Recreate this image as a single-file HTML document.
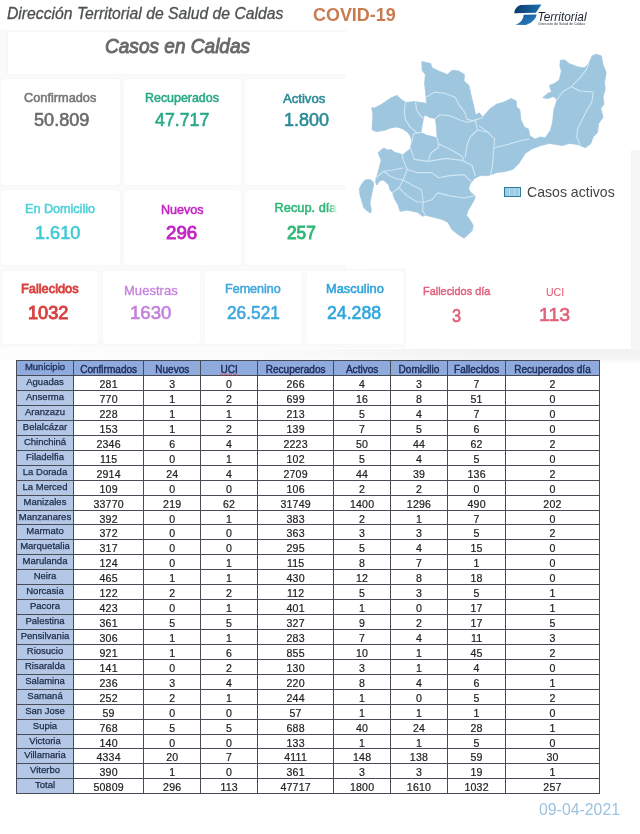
<!DOCTYPE html>
<html lang="es">
<head>
<meta charset="utf-8">
<title>COVID-19 Casos en Caldas</title>
<style>
html,body{margin:0;padding:0}
body{width:640px;height:834px;position:relative;overflow:hidden;background:#fff;font-family:"Liberation Sans",sans-serif}
.abs,.tbl div,.tbl i{position:absolute}
.top{position:absolute;left:0;top:348.5px;width:640px;height:14px;background:linear-gradient(180deg,#f1f1f1 0,#f4f4f4 70%,#fff 100%);-webkit-mask-image:linear-gradient(90deg,rgba(0,0,0,.15) 0,rgba(0,0,0,.3) 40%,#000 75%);mask-image:linear-gradient(90deg,rgba(0,0,0,.15) 0,rgba(0,0,0,.3) 40%,#000 75%)}
.rstrip{position:absolute;left:630.5px;top:150px;width:10px;height:200px;background:#f6f6f6}
.app{position:absolute;left:0;top:30px;width:346px;height:318px;background:#fafafa}
.app2{position:absolute;left:0;top:268px;width:405.5px;height:80px;background:#fafafa}
.card{position:absolute;background:#fff;border-radius:3px;box-shadow:0 0 1.5px rgba(0,0,0,.06)}
.t{z-index:2;position:absolute;white-space:nowrap;line-height:1;transform-origin:0 0}
/* table */
.hbg{background:#8faadc}
.cbg{background:#b4c7e7}
.wbg{background:#fff}
.vl{width:1px;background:#464b56}
.hl{height:1px;background:#464b56}
.r{left:0;width:640px}
.r i{top:1.5px;letter-spacing:.2px;-webkit-text-stroke:.2px #222;height:100%;text-align:center;font-style:normal;font-size:10.6px;color:#222;white-space:nowrap}
.r i.k0{top:-.5px;letter-spacing:0;font-size:9.5px;color:#1c2a44;-webkit-text-stroke:.25px #1c2a44}
.r.h i{top:2px;letter-spacing:0;font-size:10.05px;color:#1c2b5a;-webkit-text-stroke:.4px #1c2b5a}
.r.h i.k0{top:-1px;font-size:9.5px;-webkit-text-stroke:.3px #1c2b5a}
.k0{left:16.5px;width:57.0px}
.k1{left:73.5px;width:70.25px}
.k2{left:143.75px;width:57.0px}
.k3{left:200.75px;width:56.75px}
.k4{left:257.5px;width:76.25px}
.k5{left:333.75px;width:56.75px}
.k6{left:390.5px;width:57.0px}
.k7{left:447.5px;width:58.25px}
.k8{left:505.75px;width:93.5px}
.r{height:14.936px;line-height:14.936px}
.r.h{height:15.6px;line-height:15.6px}
</style>
</head>
<body>
<div class="top"></div>
<div class="rstrip"></div>
<div class="app"></div>
<div class="app2"></div>
<!-- header -->
<div class="card" style="left:8px;top:32px;width:356px;height:42px;border-radius:0"></div>

<!-- cards row 1 -->
<div class="card" style="left:1px;top:79px;width:119px;height:106px"></div>
<div class="card" style="left:124px;top:79px;width:117px;height:106px"></div>
<div class="card" style="left:245px;top:79px;width:119px;height:106px"></div>

<!-- cards row 2 -->
<div class="card" style="left:1px;top:190px;width:119px;height:75px"></div>
<div class="card" style="left:124px;top:190px;width:117px;height:75px"></div>
<div class="card" style="left:245px;top:190px;width:119px;height:75px"></div>

<!-- cards row 3 -->
<div class="card" style="left:2px;top:271px;width:96px;height:73px"></div>
<div class="card" style="left:103px;top:271px;width:97px;height:73px"></div>
<div class="card" style="left:205px;top:271px;width:97px;height:73px"></div>
<div class="card" style="left:307px;top:271px;width:97px;height:73px"></div>

<div class="abs" style="left:345.5px;top:28px;width:285px;height:210px;z-index:1;background:#fff"></div>
<svg class="abs" style="left:0;top:0;z-index:2" width="640" height="260" viewBox="0 0 640 260">
<path fill="#9fc6df" fill-rule="evenodd" stroke="#9fc6df" stroke-width="0.8" stroke-linejoin="round" d="M421.8 61.6 L430.6 63.5 L432.1 67.8 L440 71.6 L447.5 74.4 L452.2 70.25 L458.75 71 L464.4 74.4 L464 80.9 L469 85.6 L471 95 L473.75 106.25 L475.6 114.7 L479.4 112.8 L482.7 117.2 L490.3 108.4 L496.9 104.1 L503.4 102.3 L511.1 98.6 L516.1 100.8 L516.6 107.3 L519.8 109.5 L520.9 119.4 L524.2 127 L528.6 129.2 L529.7 135.8 L535.2 139.1 L540.6 136.9 L545 138 L550.5 130.3 L552.7 121.6 L553.75 110.6 L557 99.7 L553.75 96.4 L547.2 98.6 L542.8 97.5 L548.3 93.1 L551.6 92 L549.4 85.5 L554.8 83.3 L559.2 80 L561.4 71.25 L559.9 65.8 L560.3 60.3 L564.7 59.9 L569.1 63.6 L577.8 66.9 L584.4 68 L588.75 63.6 L592 55.9 L596.4 54.2 L601.4 55.9 L603 64.7 L606.25 72.3 L604.5 82.2 L605.2 88.75 L603 97.5 L604 104 L600.8 108.4 L603 117.2 L598.6 123.75 L597.5 132.5 L593.1 136.9 L590.9 143.4 L585.5 147.8 L577.8 144.5 L569.1 143.4 L562.5 145.6 L555.9 144.5 L549.4 143.4 L540.6 145.6 L531.9 148.9 L525.3 153.3 L518.9 163.4 L512.8 169.5 L504.7 171.6 L496.6 172.6 L488.4 175.6 L480.3 175.6 L474.2 178.7 L470.2 183.75 L468.5 188.8 L471.2 192.9 L475.2 195.9 L474.2 200 L471.2 205.1 L468.1 210.2 L466.5 215.2 L470.2 220.3 L473.2 225.4 L472.2 230.5 L467.1 235.5 L464.1 238.2 L458 234.5 L451.9 229.5 L447.8 222.3 L441.7 219.3 L433.6 217.3 L425.5 215.2 L422.4 216.25 L417.3 212.2 L407.2 210.2 L400 211.25 L398.1 205 L394.4 198.75 L392.5 192.5 L390 190 L388.75 185 L385 181.25 L382.5 180 L379.4 181.25 L376.9 185 L375.6 182.5 L376.25 177.5 L378.1 172.5 L380 165 L381.25 160 L379.4 156.25 L378.1 152.5 L383.75 148.1 L387.5 150 L391.25 149.4 L393.75 151.9 L400 153.75 L402.5 155 L410 149 L411.9 141.9 L410.9 137.2 L408.1 132.5 L402.5 128.75 L396.9 126.9 L391.25 127.8 L383.75 130.6 L376.25 131.6 L372.1 129.7 L372.5 121.25 L372.9 113.75 L371.6 107.75 L374.4 108.1 L380 105.3 L385.6 101.6 L391.25 97.8 L396.9 95.4 L401.6 99.7 L406.25 102.5 L413.75 101.6 L421.25 102.5 L426.5 103.4 L425.9 95 L424.6 83.75 L425.4 74.4 L422.2 70.6Z M424.6 114.7 L429.7 117.5 L435.3 118.4 L436.25 125 L437.2 138.1 L432.5 136.6 L426.9 135.3 L420.9 132.5 L422.2 125 L423.5 118.4Z"/>
<path fill="#9fc6df" stroke="#9fc6df" stroke-width="0.8" stroke-linejoin="round" d="M365 180 L370 179.4 L373.1 181.9 L373.75 185 L372.5 190 L371.25 196.25 L370 202.5 L371.25 210 L370.6 213.1 L367.5 211.25 L363.75 207.5 L361.9 201.25 L360 195 L359.4 188.75 L361.9 183.75Z"/>
<g fill="none" stroke="#cfe6f3" stroke-width="1.1" stroke-linejoin="round" stroke-linecap="round">
<path d="M405.3 102.5 L404.4 111.9 L405.3 119.4 L410 126.9 L416.6 132.5 L420.9 132.5"/>
<path d="M415.6 102.1 L416.6 110 L420.3 115.6 L423.5 118.4"/>
<path d="M426.5 96.9 L434.4 92.2 L443.75 93.1 L455 96.9 L458.75 104.4 L464.4 111.9 L467.2 119.4 L475.6 121.25"/>
<path d="M435.3 118.4 L440 114.7 L449.4 115.6 L460.6 120.3 L467.2 122.2 L477.5 119.4 L482.7 117.2"/>
<path d="M557 99.7 L562.5 92 L571.25 86.6 L580 77.8 L586.6 69.1 L588.75 63.6"/>
<path d="M571.25 86.6 L580 91 L593.1 92 L592 101.9 L586.6 110.6 L582.2 119.4 L577.8 128.1 L576.7 136.9 L580 144.5"/>
<path d="M475.6 121.25 L477.5 130 L488.1 132.5 L494.7 139.1 L493.6 150 L492.5 165.5 L490.5 174.6"/>
<path d="M488.1 132.5 L479.4 125.9"/>
<path d="M494.7 147.8 L507.8 144.5 L518.75 141.25 L528.6 139.1"/>
<path d="M402.5 155 L403.1 159.4 L407.2 169.5 L403.1 179.7 L399.1 187.8 L392.5 192.5"/>
<path d="M410.2 147.2 L414.3 159.4 L428.5 161.4 L445.8 158.4 L462 160.4 L472.2 165.5 L475.2 175.6"/>
<path d="M407.2 169.5 L417.3 172.6 L431.6 172.6 L438.7 177.7 L449.8 175.6 L464.1 174.6 L471.2 181.7"/>
<path d="M403.1 179.7 L413.3 185.8 L421.4 189.8 L423.4 202 L422.4 210.2 L425.5 215.2"/>
<path d="M423.4 202 L431.6 200 L437.7 192.9 L449.8 195.9 L464.1 198 L474.2 195.9"/>
<path d="M437.2 138.1 L438.7 147.2 L430.5 153.3 L428.5 161.4"/>
<path d="M438.7 144.1 L451.9 150.2 L462 156.3 L464.1 160.4"/>
<path d="M477.5 130 L470.2 137 L467.1 145.2 L465.1 157.3"/>
<path d="M399.1 187.8 L407.2 195.9 L417.3 202 L423.4 202"/>
<path d="M376.25 177.5 L383.75 171.25 L392.5 170 L403.1 168"/>
<path d="M383.75 171.25 L390 176 L397 179 L403.1 179.7"/>
<path d="M411.9 141.9 L413.75 133.5 L420.9 132.5"/>
</g>
</svg>
<svg class="abs" style="left:505px;top:0;z-index:2" width="100" height="34" viewBox="505 0 100 34">
<defs><linearGradient id="lg" x1="0" y1="0" x2="1" y2="0"><stop offset="0" stop-color="#0d3a6c"/><stop offset="1" stop-color="#1b6fae"/></linearGradient>
<linearGradient id="lg2" x1="0" y1="0" x2="1" y2="1"><stop offset="0" stop-color="#17538f"/><stop offset="1" stop-color="#2a86c8"/></linearGradient></defs>
<path fill="url(#lg)" d="M514.1 13.3 Q514.6 9.5 516.4 7.8 Q518 5.4 520.6 5 L541.4 4.4 L535.9 12.8Z"/>
<path fill="url(#lg2)" d="M523.75 14.8 L536.7 14.4 Q536 18 533.6 20.3 Q530.5 23.8 525.8 25 L515.6 24.7 Q519.5 23.4 521.3 21 Q523.6 18 523.75 14.8Z"/>
<text x="537.6" y="21.1" font-family="'Liberation Sans',sans-serif" font-style="italic" font-size="12" fill="#1a2330" textLength="49" lengthAdjust="spacingAndGlyphs">Territorial</text>
<text x="538.5" y="24.9" font-family="'Liberation Sans',sans-serif" font-size="3.4" fill="#2a2f38" textLength="46.5" lengthAdjust="spacingAndGlyphs">Dirección de Salud de Caldas</text>
</svg>

<div class="t" style="left:6.50px;top:6.25px;font-style:italic;font-size:15.80px;-webkit-text-stroke:.3px;color:#4d5052;-webkit-text-stroke-color:#4d5052;transform:scaleX(0.9951)">Dirección Territorial de Salud de Caldas</div>
<div class="t" style="left:312.80px;top:5.55px;font-weight:bold;font-size:18.50px;color:#c77b4e;-webkit-text-stroke-color:#c77b4e;transform:scaleX(0.9693)">COVID-19</div>
<div class="t" style="left:104.60px;top:36.00px;font-style:italic;font-size:20.50px;-webkit-text-stroke:.95px;color:#6a6a6a;-webkit-text-stroke-color:#6a6a6a;transform:scaleX(0.9293)">Casos en Caldas</div>
<div class="t" style="left:24.40px;top:91.65px;font-size:12.80px;-webkit-text-stroke:.55px;color:#777777;-webkit-text-stroke-color:#777777;transform:scaleX(0.9973)">Confirmados</div>
<div class="t" style="left:34.40px;top:111.00px;font-size:18.20px;-webkit-text-stroke:.6px;color:#6b6b6b;-webkit-text-stroke-color:#6b6b6b;transform:scaleX(0.9965)">50.809</div>
<div class="t" style="left:145.20px;top:91.50px;font-size:12.80px;-webkit-text-stroke:.55px;color:#2aa986;-webkit-text-stroke-color:#2aa986;transform:scaleX(0.9709)">Recuperados</div>
<div class="t" style="left:155.40px;top:110.55px;font-size:18.20px;-webkit-text-stroke:.6px;color:#2aa986;-webkit-text-stroke-color:#2aa986;transform:scaleX(0.9764)">47.717</div>
<div class="t" style="left:283.00px;top:92.75px;font-size:12.80px;-webkit-text-stroke:.55px;color:#2b8b97;-webkit-text-stroke-color:#2b8b97;transform:scaleX(1.0244)">Activos</div>
<div class="t" style="left:283.60px;top:110.55px;font-size:18.20px;-webkit-text-stroke:.6px;color:#2b8b97;-webkit-text-stroke-color:#2b8b97;transform:scaleX(0.9869)">1.800</div>
<div class="t" style="left:25.00px;top:203.08px;font-size:12.80px;-webkit-text-stroke:.55px;color:#4fd0da;-webkit-text-stroke-color:#4fd0da;transform:scaleX(0.9846)">En Domicilio</div>
<div class="t" style="left:35.00px;top:224.00px;font-size:18.20px;-webkit-text-stroke:.6px;color:#3fcbd5;-webkit-text-stroke-color:#3fcbd5;transform:scaleX(0.9957)">1.610</div>
<div class="t" style="left:160.80px;top:203.80px;font-size:12.80px;-webkit-text-stroke:.55px;color:#c425c4;-webkit-text-stroke-color:#c425c4;transform:scaleX(0.9815)">Nuevos</div>
<div class="t" style="left:166.20px;top:224.25px;font-size:18.20px;-webkit-text-stroke:.9px;color:#c425c4;-webkit-text-stroke-color:#c425c4;transform:scaleX(1.0270)">296</div>
<div class="t" style="z-index:0;-webkit-mask-image:linear-gradient(90deg,#000 88%,rgba(0,0,0,.25) 97%);mask-image:linear-gradient(90deg,#000 88%,rgba(0,0,0,.25) 97%);left:274.60px;top:202.00px;font-size:12.80px;-webkit-text-stroke:.55px;color:#30b777;-webkit-text-stroke-color:#30b777;transform:scaleX(1.0000)">Recup. día</div>
<div class="t" style="left:287.00px;top:224.25px;font-size:18.20px;-webkit-text-stroke:.9px;color:#30b777;-webkit-text-stroke-color:#30b777;transform:scaleX(0.9468)">257</div>
<div class="t" style="left:21.00px;top:283.17px;font-size:12.80px;-webkit-text-stroke:.8px;color:#d8423f;-webkit-text-stroke-color:#d8423f;transform:scaleX(1.0000)">Fallecidos</div>
<div class="t" style="left:28.00px;top:303.98px;font-size:18.20px;-webkit-text-stroke:.95px;color:#d8423f;-webkit-text-stroke-color:#d8423f;transform:scaleX(1.0000)">1032</div>
<div class="t" style="left:124.00px;top:285.40px;font-size:12.80px;-webkit-text-stroke:.3px;color:#c681dd;-webkit-text-stroke-color:#c681dd;transform:scaleX(1.0196)">Muestras</div>
<div class="t" style="left:130.00px;top:304.00px;font-size:18.20px;-webkit-text-stroke:.6px;color:#c681dd;-webkit-text-stroke-color:#c681dd;transform:scaleX(1.0256)">1630</div>
<div class="t" style="left:224.80px;top:283.40px;font-size:12.80px;-webkit-text-stroke:.55px;color:#41a8df;-webkit-text-stroke-color:#41a8df;transform:scaleX(0.9798)">Femenino</div>
<div class="t" style="left:227.00px;top:304.00px;font-size:18.20px;-webkit-text-stroke:.6px;color:#41a8df;-webkit-text-stroke-color:#41a8df;transform:scaleX(0.9512)">26.521</div>
<div class="t" style="left:326.00px;top:283.40px;font-size:12.80px;-webkit-text-stroke:.55px;color:#2fa5dd;-webkit-text-stroke-color:#2fa5dd;transform:scaleX(1.0044)">Masculino</div>
<div class="t" style="left:327.00px;top:304.00px;font-size:18.20px;-webkit-text-stroke:.6px;color:#2fa5dd;-webkit-text-stroke-color:#2fa5dd;transform:scaleX(0.9728)">24.288</div>
<div class="t" style="left:423.00px;top:286.25px;font-size:11.10px;-webkit-text-stroke:.45px;color:#e0627c;-webkit-text-stroke-color:#e0627c;transform:scaleX(0.9841)">Fallecidos día</div>
<div class="t" style="left:452.00px;top:307.00px;font-size:18.20px;-webkit-text-stroke:.6px;color:#e0627c;-webkit-text-stroke-color:#e0627c;transform:scaleX(0.9000)">3</div>
<div class="t" style="left:546.00px;top:287.45px;font-size:11.10px;-webkit-text-stroke:.1px;color:#e0627c;-webkit-text-stroke-color:#e0627c;transform:scaleX(0.9508)">UCI</div>
<div class="t" style="left:538.80px;top:306.25px;font-size:18.20px;-webkit-text-stroke:.6px;color:#e0627c;-webkit-text-stroke-color:#e0627c;transform:scaleX(1.0714)">113</div>
<div class="t" style="left:527.00px;top:185.40px;font-size:14.80px;color:#444444;-webkit-text-stroke-color:#444444;transform:scaleX(0.9522)">Casos activos</div>
<div class="t" style="left:538.50px;top:801.62px;font-size:15.70px;color:#9cc3df;-webkit-text-stroke-color:#9cc3df;transform:scaleX(1.0096)">09-04-2021</div>
<div class="abs" style="z-index:2;left:503.5px;top:187.3px;width:15px;height:7.6px;background:repeating-linear-gradient(90deg,#9ccde8 0,#9ccde8 4px,#b9dcee 4px,#b9dcee 5px);border:1.2px solid #2e7f92"></div>

<svg class="abs squig" style="left:219px;top:371px;z-index:3" width="22" height="6" viewBox="0 0 22 6"><path d="M1.5 3.6 q1.1 -1.8 2.2 0 t2.2 0 t2.2 0 t2.2 0 t2.2 0 t2.2 0 t2.2 0 t2.2 0" fill="none" stroke="#d8403a" stroke-width=".8"/></svg>
<div class="tbl">
<div class="hbg" style="left:16.5px;top:360.0px;width:582.75px;height:15.6px"></div>
<div class="cbg" style="left:16.5px;top:375.6px;width:57.0px;height:418.19999999999993px"></div>
<div class="wbg" style="left:73.5px;top:375.6px;width:525.75px;height:418.19999999999993px"></div>
<div class="vl" style="left:16.0px;top:359.5px;height:434.79999999999995px"></div>
<div class="vl" style="left:73.0px;top:359.5px;height:434.79999999999995px"></div>
<div class="vl" style="left:143.25px;top:359.5px;height:434.79999999999995px"></div>
<div class="vl" style="left:200.25px;top:359.5px;height:434.79999999999995px"></div>
<div class="vl" style="left:257.0px;top:359.5px;height:434.79999999999995px"></div>
<div class="vl" style="left:333.25px;top:359.5px;height:434.79999999999995px"></div>
<div class="vl" style="left:390.0px;top:359.5px;height:434.79999999999995px"></div>
<div class="vl" style="left:447.0px;top:359.5px;height:434.79999999999995px"></div>
<div class="vl" style="left:505.25px;top:359.5px;height:434.79999999999995px"></div>
<div class="vl" style="left:598.75px;top:359.5px;height:434.79999999999995px"></div>
<div class="hl" style="top:359.50px;left:16.0px;width:583.75px"></div>
<div class="hl" style="top:375.10px;left:16.0px;width:583.75px"></div>
<div class="hl" style="top:390.04px;left:16.0px;width:583.75px"></div>
<div class="hl" style="top:404.97px;left:16.0px;width:583.75px"></div>
<div class="hl" style="top:419.91px;left:16.0px;width:583.75px"></div>
<div class="hl" style="top:434.84px;left:16.0px;width:583.75px"></div>
<div class="hl" style="top:449.78px;left:16.0px;width:583.75px"></div>
<div class="hl" style="top:464.71px;left:16.0px;width:583.75px"></div>
<div class="hl" style="top:479.65px;left:16.0px;width:583.75px"></div>
<div class="hl" style="top:494.59px;left:16.0px;width:583.75px"></div>
<div class="hl" style="top:509.52px;left:16.0px;width:583.75px"></div>
<div class="hl" style="top:524.46px;left:16.0px;width:583.75px"></div>
<div class="hl" style="top:539.39px;left:16.0px;width:583.75px"></div>
<div class="hl" style="top:554.33px;left:16.0px;width:583.75px"></div>
<div class="hl" style="top:569.26px;left:16.0px;width:583.75px"></div>
<div class="hl" style="top:584.20px;left:16.0px;width:583.75px"></div>
<div class="hl" style="top:599.14px;left:16.0px;width:583.75px"></div>
<div class="hl" style="top:614.07px;left:16.0px;width:583.75px"></div>
<div class="hl" style="top:629.01px;left:16.0px;width:583.75px"></div>
<div class="hl" style="top:643.94px;left:16.0px;width:583.75px"></div>
<div class="hl" style="top:658.88px;left:16.0px;width:583.75px"></div>
<div class="hl" style="top:673.81px;left:16.0px;width:583.75px"></div>
<div class="hl" style="top:688.75px;left:16.0px;width:583.75px"></div>
<div class="hl" style="top:703.69px;left:16.0px;width:583.75px"></div>
<div class="hl" style="top:718.62px;left:16.0px;width:583.75px"></div>
<div class="hl" style="top:733.56px;left:16.0px;width:583.75px"></div>
<div class="hl" style="top:748.49px;left:16.0px;width:583.75px"></div>
<div class="hl" style="top:763.43px;left:16.0px;width:583.75px"></div>
<div class="hl" style="top:778.36px;left:16.0px;width:583.75px"></div>
<div class="hl" style="top:793.30px;left:16.0px;width:583.75px"></div>
<div class="r h" style="top:360.00px"><i class="k0">Municipio</i><i class="k1">Confirmados</i><i class="k2">Nuevos</i><i class="k3">UCI</i><i class="k4">Recuperados</i><i class="k5">Activos</i><i class="k6">Domicilio</i><i class="k7">Fallecidos</i><i class="k8">Recuperados día</i></div>
<div class="r" style="top:375.60px"><i class="k0">Aguadas</i><i class="k1">281</i><i class="k2">3</i><i class="k3">0</i><i class="k4">266</i><i class="k5">4</i><i class="k6">3</i><i class="k7">7</i><i class="k8">2</i></div>
<div class="r" style="top:390.54px"><i class="k0">Anserma</i><i class="k1">770</i><i class="k2">1</i><i class="k3">2</i><i class="k4">699</i><i class="k5">16</i><i class="k6">8</i><i class="k7">51</i><i class="k8">0</i></div>
<div class="r" style="top:405.47px"><i class="k0">Aranzazu</i><i class="k1">228</i><i class="k2">1</i><i class="k3">1</i><i class="k4">213</i><i class="k5">5</i><i class="k6">4</i><i class="k7">7</i><i class="k8">0</i></div>
<div class="r" style="top:420.41px"><i class="k0">Belalcázar</i><i class="k1">153</i><i class="k2">1</i><i class="k3">2</i><i class="k4">139</i><i class="k5">7</i><i class="k6">5</i><i class="k7">6</i><i class="k8">0</i></div>
<div class="r" style="top:435.34px"><i class="k0">Chinchiná</i><i class="k1">2346</i><i class="k2">6</i><i class="k3">4</i><i class="k4">2223</i><i class="k5">50</i><i class="k6">44</i><i class="k7">62</i><i class="k8">2</i></div>
<div class="r" style="top:450.28px"><i class="k0">Filadelfia</i><i class="k1">115</i><i class="k2">0</i><i class="k3">1</i><i class="k4">102</i><i class="k5">5</i><i class="k6">4</i><i class="k7">5</i><i class="k8">0</i></div>
<div class="r" style="top:465.21px"><i class="k0">La Dorada</i><i class="k1">2914</i><i class="k2">24</i><i class="k3">4</i><i class="k4">2709</i><i class="k5">44</i><i class="k6">39</i><i class="k7">136</i><i class="k8">2</i></div>
<div class="r" style="top:480.15px"><i class="k0">La Merced</i><i class="k1">109</i><i class="k2">0</i><i class="k3">0</i><i class="k4">106</i><i class="k5">2</i><i class="k6">2</i><i class="k7">0</i><i class="k8">0</i></div>
<div class="r" style="top:495.09px"><i class="k0">Manizales</i><i class="k1">33770</i><i class="k2">219</i><i class="k3">62</i><i class="k4">31749</i><i class="k5">1400</i><i class="k6">1296</i><i class="k7">490</i><i class="k8">202</i></div>
<div class="r" style="top:510.02px"><i class="k0">Manzanares</i><i class="k1">392</i><i class="k2">0</i><i class="k3">1</i><i class="k4">383</i><i class="k5">2</i><i class="k6">1</i><i class="k7">7</i><i class="k8">0</i></div>
<div class="r" style="top:524.96px"><i class="k0">Marmato</i><i class="k1">372</i><i class="k2">0</i><i class="k3">0</i><i class="k4">363</i><i class="k5">3</i><i class="k6">3</i><i class="k7">5</i><i class="k8">2</i></div>
<div class="r" style="top:539.89px"><i class="k0">Marquetalia</i><i class="k1">317</i><i class="k2">0</i><i class="k3">0</i><i class="k4">295</i><i class="k5">5</i><i class="k6">4</i><i class="k7">15</i><i class="k8">0</i></div>
<div class="r" style="top:554.83px"><i class="k0">Marulanda</i><i class="k1">124</i><i class="k2">0</i><i class="k3">1</i><i class="k4">115</i><i class="k5">8</i><i class="k6">7</i><i class="k7">1</i><i class="k8">0</i></div>
<div class="r" style="top:569.76px"><i class="k0">Neira</i><i class="k1">465</i><i class="k2">1</i><i class="k3">1</i><i class="k4">430</i><i class="k5">12</i><i class="k6">8</i><i class="k7">18</i><i class="k8">0</i></div>
<div class="r" style="top:584.70px"><i class="k0">Norcasia</i><i class="k1">122</i><i class="k2">2</i><i class="k3">2</i><i class="k4">112</i><i class="k5">5</i><i class="k6">3</i><i class="k7">5</i><i class="k8">1</i></div>
<div class="r" style="top:599.64px"><i class="k0">Pacora</i><i class="k1">423</i><i class="k2">0</i><i class="k3">1</i><i class="k4">401</i><i class="k5">1</i><i class="k6">0</i><i class="k7">17</i><i class="k8">1</i></div>
<div class="r" style="top:614.57px"><i class="k0">Palestina</i><i class="k1">361</i><i class="k2">5</i><i class="k3">5</i><i class="k4">327</i><i class="k5">9</i><i class="k6">2</i><i class="k7">17</i><i class="k8">5</i></div>
<div class="r" style="top:629.51px"><i class="k0">Pensilvania</i><i class="k1">306</i><i class="k2">1</i><i class="k3">1</i><i class="k4">283</i><i class="k5">7</i><i class="k6">4</i><i class="k7">11</i><i class="k8">3</i></div>
<div class="r" style="top:644.44px"><i class="k0">Riosucio</i><i class="k1">921</i><i class="k2">1</i><i class="k3">6</i><i class="k4">855</i><i class="k5">10</i><i class="k6">1</i><i class="k7">45</i><i class="k8">2</i></div>
<div class="r" style="top:659.38px"><i class="k0">Risaralda</i><i class="k1">141</i><i class="k2">0</i><i class="k3">2</i><i class="k4">130</i><i class="k5">3</i><i class="k6">1</i><i class="k7">4</i><i class="k8">0</i></div>
<div class="r" style="top:674.31px"><i class="k0">Salamina</i><i class="k1">236</i><i class="k2">3</i><i class="k3">4</i><i class="k4">220</i><i class="k5">8</i><i class="k6">4</i><i class="k7">6</i><i class="k8">1</i></div>
<div class="r" style="top:689.25px"><i class="k0">Samaná</i><i class="k1">252</i><i class="k2">2</i><i class="k3">1</i><i class="k4">244</i><i class="k5">1</i><i class="k6">0</i><i class="k7">5</i><i class="k8">2</i></div>
<div class="r" style="top:704.19px"><i class="k0">San Jose</i><i class="k1">59</i><i class="k2">0</i><i class="k3">0</i><i class="k4">57</i><i class="k5">1</i><i class="k6">1</i><i class="k7">1</i><i class="k8">0</i></div>
<div class="r" style="top:719.12px"><i class="k0">Supia</i><i class="k1">768</i><i class="k2">5</i><i class="k3">5</i><i class="k4">688</i><i class="k5">40</i><i class="k6">24</i><i class="k7">28</i><i class="k8">1</i></div>
<div class="r" style="top:734.06px"><i class="k0">Victoria</i><i class="k1">140</i><i class="k2">0</i><i class="k3">0</i><i class="k4">133</i><i class="k5">1</i><i class="k6">1</i><i class="k7">5</i><i class="k8">0</i></div>
<div class="r" style="top:748.99px"><i class="k0">Villamaria</i><i class="k1">4334</i><i class="k2">20</i><i class="k3">7</i><i class="k4">4111</i><i class="k5">148</i><i class="k6">138</i><i class="k7">59</i><i class="k8">30</i></div>
<div class="r" style="top:763.93px"><i class="k0">Viterbo</i><i class="k1">390</i><i class="k2">1</i><i class="k3">0</i><i class="k4">361</i><i class="k5">3</i><i class="k6">3</i><i class="k7">19</i><i class="k8">1</i></div>
<div class="r" style="top:778.86px"><i class="k0">Total</i><i class="k1">50809</i><i class="k2">296</i><i class="k3">113</i><i class="k4">47717</i><i class="k5">1800</i><i class="k6">1610</i><i class="k7">1032</i><i class="k8">257</i></div>
</div>
</body>
</html>
